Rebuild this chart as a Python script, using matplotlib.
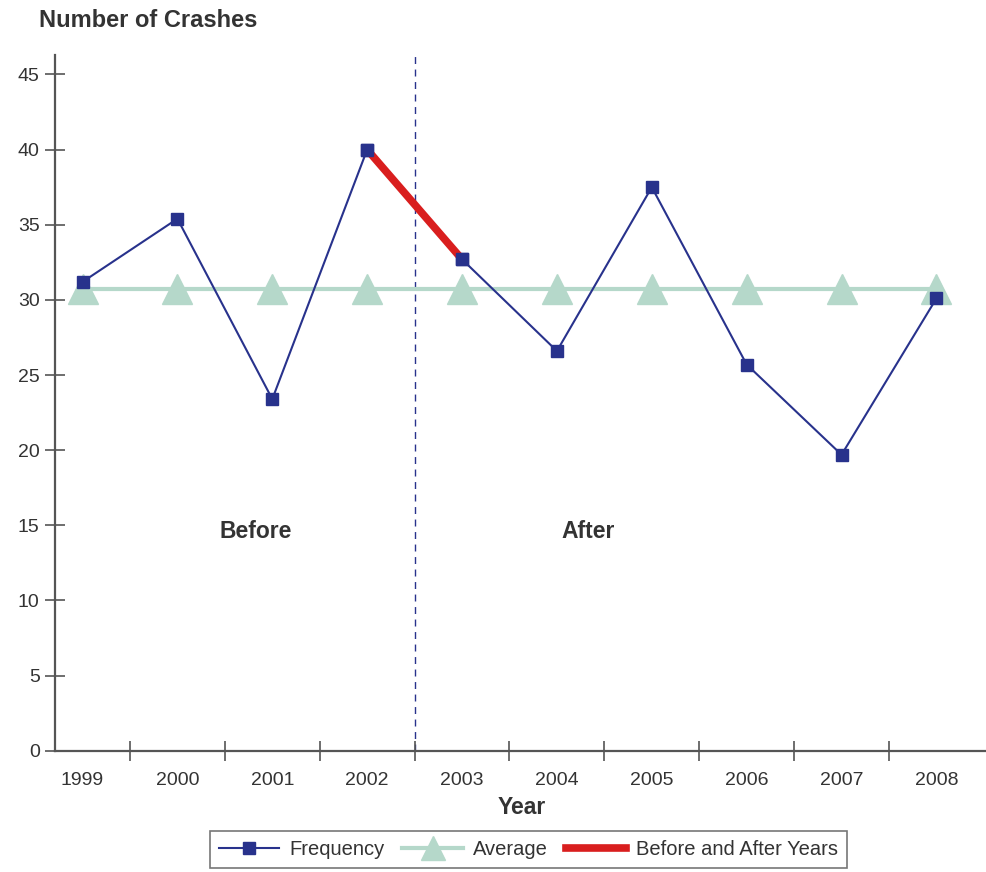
import matplotlib
matplotlib.use("Agg")
import matplotlib.pyplot as plt
from matplotlib.lines import Line2D
import numpy as np

years = ["1999", "2000", "2001", "2002", "2003", "2004", "2005", "2006", "2007", "2008"]
frequency = [31.2, 35.4, 23.4, 40.0, 32.7, 26.6, 37.5, 25.7, 19.7, 30.1]
average = [30.7] * 10
before_after_years = ["2002", "2003"]
y_ticks = [0, 5, 10, 15, 20, 25, 30, 35, 40, 45]

NAVY = "#28328c"
AVG = "#b5d8ca"
RED = "#d91e1e"
GRAY = "#555555"
TXT = "#333333"

narrow = ["Liberation Sans Narrow", "Liberation Sans", "DejaVu Sans"]
wide = ["Liberation Sans", "DejaVu Sans"]

fig = plt.figure(figsize=(9.86, 8.72), dpi=100)
ax = fig.add_axes([0.0558, 0.139, 0.943, 0.798])

x = np.arange(len(years))
ax.plot(x, average, color=AVG, lw=3, marker="^", ms=22, mec=AVG, mfc=AVG, zorder=2)
ax.plot(x, frequency, color=NAVY, lw=1.5, marker="s", ms=9, mec=NAVY, mfc=NAVY, zorder=3)
idx = [years.index(y) for y in before_after_years]
ax.plot(x[idx], [frequency[i] for i in idx], color=RED, lw=5.5, solid_capstyle="butt", zorder=4)
ax.plot(x[idx], [frequency[i] for i in idx], ls="none", marker="s", ms=9, mec=NAVY, mfc=NAVY, zorder=5)

# divider between the "before" and "after" periods (between 2002 and 2003)
ax.axvline((idx[0] + idx[1]) / 2, color=NAVY, lw=1.0, ls=(0, (5, 4)), zorder=1)

ax.set_xlim(-0.29, 9.51)
ax.set_ylim(0, 46.3)

for s in ["top", "right"]:
    ax.spines[s].set_visible(False)
for s in ["left", "bottom"]:
    ax.spines[s].set_color(GRAY)
    ax.spines[s].set_linewidth(1.6)

ax.set_yticks(y_ticks)
ax.set_yticklabels([str(v) for v in y_ticks], family=narrow, fontsize=14, color=TXT)
ax.tick_params(axis="y", direction="inout", length=14, width=1.2, color=GRAY, pad=4)

ax.set_xticks(x[:-1] + 0.5)
ax.set_xticklabels([])
ax.tick_params(axis="x", which="major", direction="inout", length=15, width=1.2, color=GRAY)
ax.set_xticks(x, minor=True)
ax.set_xticklabels(years, minor=True, family=narrow, fontsize=14, color=TXT)
ax.tick_params(axis="x", which="minor", length=0, pad=15)

fig.text(0.040, 0.977, "Number of Crashes", family=wide, fontsize=17, fontweight="bold",
         color=TXT, ha="left", va="center")
fig.text(0.529, 0.074, "Year", family=wide, fontsize=16.5, fontweight="bold",
         color=TXT, ha="center", va="center")
ax.text(1.82, 14.6, "Before", family=wide, fontsize=16.5, fontweight="bold", color=TXT,
        ha="center", va="center")
ax.text(5.33, 14.6, "After", family=wide, fontsize=16.5, fontweight="bold", color=TXT,
        ha="center", va="center")

handles = [
    Line2D([], [], color=NAVY, lw=1.5, marker="s", ms=9, mec=NAVY, mfc=NAVY),
    Line2D([], [], color=AVG, lw=3, marker="^", ms=17, mec=AVG, mfc=AVG),
    Line2D([], [], color=RED, lw=5.5),
]
leg = fig.legend(handles, ["Frequency", "Average", "Before and After Years"],
                 loc="center", bbox_to_anchor=(0.536, 0.026), ncol=3, frameon=True,
                 fancybox=False, edgecolor=GRAY, handlelength=3.0, handletextpad=0.5,
                 columnspacing=0.9, borderpad=0.45,
                 prop={"family": narrow, "size": 14.5})
leg.get_frame().set_linewidth(1.2)
for t in leg.get_texts():
    t.set_color(TXT)

fig.savefig("out.png", dpi=100)
